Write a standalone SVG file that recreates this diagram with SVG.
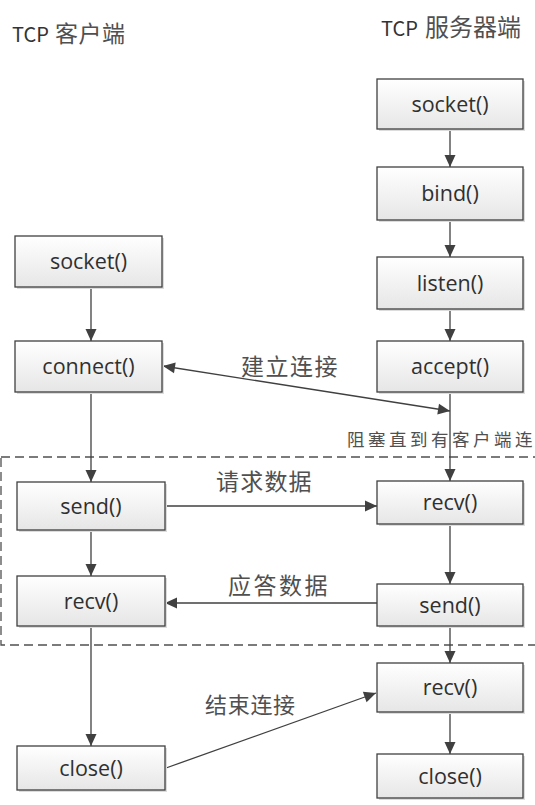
<svg xmlns="http://www.w3.org/2000/svg" width="535" height="805" viewBox="0 0 535 805">
<style>
.box{fill:url(#g);stroke:#404040;stroke-width:1.3}
.sh{fill:#dcdcdc}
.t{font-family:"Open Sans","Liberation Sans",sans-serif;font-size:21.5px;fill:#303030;text-anchor:middle}
.cn{font-family:"Noto Sans CJK SC","Noto Sans",sans-serif;fill:#505050}
.ln{stroke:#404040;stroke-width:1.3;fill:none}
</style>
<defs>
<linearGradient id="g" x1="0" y1="0" x2="0" y2="1">
<stop offset="0" stop-color="#ffffff"/>
<stop offset="1" stop-color="#e6e6e6"/>
</linearGradient>
<marker id="a" markerUnits="userSpaceOnUse" markerWidth="14" markerHeight="14" viewBox="0 0 14 14" refX="13" refY="7" orient="auto-start-reverse">
<path d="M1,1.5 L13,7 L1,12.5 Z" fill="#404040"/>
</marker>
</defs>
<rect width="535" height="805" fill="#ffffff"/>
<text class="cn" x="12" y="42"><tspan font-size="20" fill="#333">TCP</tspan><tspan x="55" font-size="23" letter-spacing="0.5">客户端</tspan></text>
<text class="cn" x="381" y="36"><tspan font-size="20" fill="#333">TCP</tspan><tspan x="425" font-size="24" letter-spacing="0">服务器端</tspan></text>
<rect x="1" y="457" width="545" height="188" fill="none" stroke="#505050" stroke-width="1.3" stroke-dasharray="9 5"/>
<g id="connectors">
<line class="ln" x1="91" y1="287" x2="91" y2="341" marker-end="url(#a)"/>
<line class="ln" x1="91" y1="392" x2="91" y2="482" marker-end="url(#a)"/>
<line class="ln" x1="91" y1="530" x2="91" y2="576" marker-end="url(#a)"/>
<line class="ln" x1="91" y1="626" x2="91" y2="746" marker-end="url(#a)"/>
<line class="ln" x1="450" y1="129" x2="450" y2="167" marker-end="url(#a)"/>
<line class="ln" x1="450" y1="220" x2="450" y2="257" marker-end="url(#a)"/>
<line class="ln" x1="450" y1="309" x2="450" y2="341" marker-end="url(#a)"/>
<line class="ln" x1="450" y1="392" x2="450" y2="481" marker-end="url(#a)"/>
<line class="ln" x1="450" y1="524" x2="450" y2="584" marker-end="url(#a)"/>
<line class="ln" x1="450" y1="626" x2="450" y2="663" marker-end="url(#a)"/>
<line class="ln" x1="450" y1="712" x2="450" y2="754" marker-end="url(#a)"/>
<line class="ln" x1="163" y1="366" x2="450" y2="411" marker-start="url(#a)" marker-end="url(#a)"/>
<line class="ln" x1="165" y1="506" x2="377" y2="506" marker-end="url(#a)"/>
<line class="ln" x1="377" y1="603" x2="165" y2="603" marker-end="url(#a)"/>
<line class="ln" x1="166" y1="768" x2="376" y2="693" marker-end="url(#a)"/>
<text class="cn" x="241" y="375" font-size="23" letter-spacing="1.5">建立连接</text>
<text class="cn" x="347" y="446" font-size="17.5" letter-spacing="3.5">阻塞直到有客户端连接</text>
<text class="cn" x="216" y="490" font-size="23" letter-spacing="1.2">请求数据</text>
<text class="cn" x="228" y="594" font-size="23" letter-spacing="2.5">应答数据</text>
<text class="cn" x="205" y="713" font-size="22" letter-spacing="0.7">结束连接</text>
</g>
<g id="c_socket"><rect class="sh" x="17" y="238" width="147" height="51"/><rect class="box" x="15" y="236" width="147" height="51"/><text class="t" x="88.5" y="269">socket()</text></g>
<g id="c_connect"><rect class="sh" x="17" y="343" width="147" height="51"/><rect class="box" x="15" y="341" width="147" height="51"/><text class="t" x="88.5" y="374">connect()</text></g>
<g id="c_send"><rect class="sh" x="19" y="484" width="148" height="48"/><rect class="box" x="17" y="482" width="148" height="48"/><text class="t" x="91" y="514">send()</text></g>
<g id="c_recv"><rect class="sh" x="19" y="578" width="148" height="50"/><rect class="box" x="17" y="576" width="148" height="50"/><text class="t" x="91" y="609">recv()</text></g>
<g id="c_close"><rect class="sh" x="19" y="748" width="148" height="44"/><rect class="box" x="17" y="746" width="148" height="44"/><text class="t" x="91" y="776">close()</text></g>
<g id="s_socket"><rect class="sh" x="379" y="81" width="146" height="50"/><rect class="box" x="377" y="79" width="146" height="50"/><text class="t" x="450" y="112">socket()</text></g>
<g id="s_bind"><rect class="sh" x="379" y="169" width="146" height="53"/><rect class="box" x="377" y="167" width="146" height="53"/><text class="t" x="450" y="201">bind()</text></g>
<g id="s_listen"><rect class="sh" x="379" y="259" width="146" height="52"/><rect class="box" x="377" y="257" width="146" height="52"/><text class="t" x="450" y="291">listen()</text></g>
<g id="s_accept"><rect class="sh" x="379" y="343" width="146" height="51"/><rect class="box" x="377" y="341" width="146" height="51"/><text class="t" x="450" y="374">accept()</text></g>
<g id="s_recv"><rect class="sh" x="379" y="483" width="146" height="43"/><rect class="box" x="377" y="481" width="146" height="43"/><text class="t" x="450" y="510">recv()</text></g>
<g id="s_send"><rect class="sh" x="379" y="586" width="146" height="42"/><rect class="box" x="377" y="584" width="146" height="42"/><text class="t" x="450" y="613">send()</text></g>
<g id="s_recv2"><rect class="sh" x="379" y="665" width="146" height="49"/><rect class="box" x="377" y="663" width="146" height="49"/><text class="t" x="450" y="695">recv()</text></g>
<g id="s_close"><rect class="sh" x="379" y="756" width="146" height="44"/><rect class="box" x="377" y="754" width="146" height="44"/><text class="t" x="450" y="784">close()</text></g>
</svg>
